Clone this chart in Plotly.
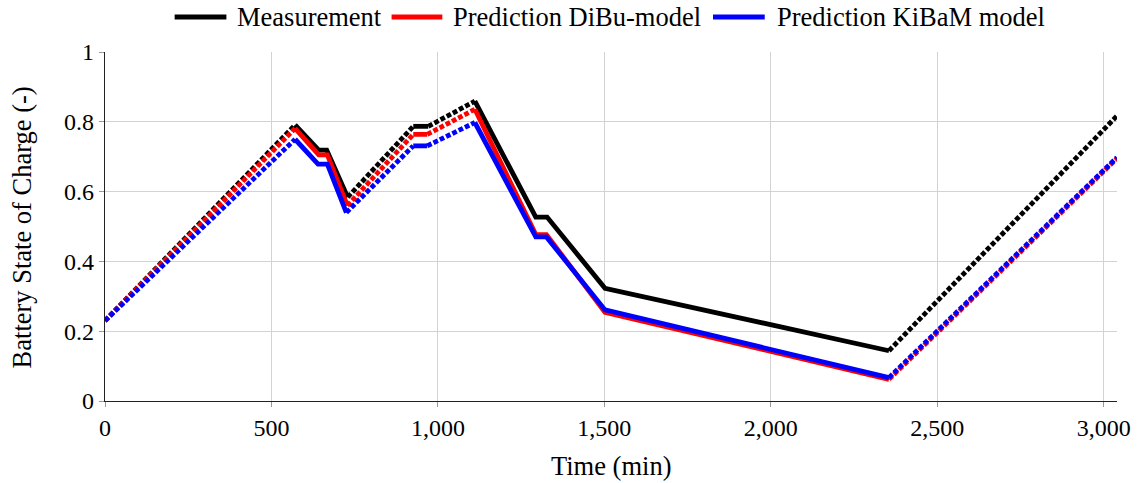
import plotly.graph_objects as go

# ---- data ----
t_meas = [0, 571, 642, 666, 729, 926, 971, 1111, 1294, 1328, 1502, 2355, 3040]
v_meas = [0.230, 0.791, 0.719, 0.719, 0.584, 0.787, 0.787, 0.859, 0.527, 0.527, 0.323, 0.144, 0.817]

t_dibu = [0, 571, 642, 668, 728, 926, 968, 1111, 1294, 1326, 1502, 2355, 3040]
v_dibu = [0.230, 0.781, 0.705, 0.705, 0.560, 0.764, 0.764, 0.836, 0.477, 0.477, 0.254, 0.062, 0.695]

t_kibam = [0, 571, 640, 668, 725, 926, 968, 1111, 1294, 1326, 1502, 2355, 3040]
v_kibam = [0.230, 0.750, 0.679, 0.679, 0.540, 0.731, 0.731, 0.798, 0.470, 0.470, 0.261, 0.067, 0.698]

series_names = ["Measurement", "Prediction DiBu-model", "Prediction KiBaM model"]
series_colors = ["#000000", "#ff0000", "#0000ff"]

x_ticks = [0, 500, 1000, 1500, 2000, 2500, 3000]
y_ticks = [0, 0.2, 0.4, 0.6, 0.8, 1]

FONT = "Liberation Serif"
FS_TICK = 24
FS_LEG = 26.5
FS_TITLE = 26.5
W, H = 1143, 483
# plot area in pixels: x 105..1122, y 52..401
L, T = 105, 52
R = W - 1122
B = H - 401

fig = go.Figure()


def split_segments(t, v):
    solid_x, solid_y, dot_x, dot_y = [], [], [], []
    for i in range(len(t) - 1):
        rising = v[i + 1] > v[i] + 0.01
        tx, ty = (dot_x, dot_y) if rising else (solid_x, solid_y)
        if tx and tx[-1] == t[i]:
            tx.append(t[i + 1]); ty.append(v[i + 1])
        else:
            if tx:
                tx.append(None); ty.append(None)
            tx.extend([t[i], t[i + 1]]); ty.extend([v[i], v[i + 1]])
    return solid_x, solid_y, dot_x, dot_y


for (t, v), name, col in zip([(t_meas, v_meas), (t_dibu, v_dibu), (t_kibam, v_kibam)],
                             series_names, series_colors):
    sx, sy, dx, dy = split_segments(t, v)
    fig.add_trace(go.Scatter(x=sx, y=sy, mode="lines", name=name, showlegend=False,
                             line=dict(color=col, width=4.8), hoverinfo="skip"))
    fig.add_trace(go.Scatter(x=dx, y=dy, mode="lines", name=name, showlegend=False,
                             line=dict(color=col, width=4.8, dash="4.8px,2.2px"), hoverinfo="skip"))

pw = W - L - R
ph = H - T - B


def px2paper_x(px):
    return (px - L) / pw


def py2paper_y(py):
    return (H - B - py) / ph


# manual legend (pixel positions)
leg_y = 17
leg_items = [(175, 227, 236), (393, 444, 453), (716, 768, 778)]
for (x0, x1, xt), name, col in zip(leg_items, series_names, series_colors):
    fig.add_shape(type="line", xref="paper", yref="paper",
                  x0=px2paper_x(x0), x1=px2paper_x(x1),
                  y0=py2paper_y(leg_y), y1=py2paper_y(leg_y),
                  line=dict(color=col, width=4.8))
    fig.add_annotation(xref="paper", yref="paper", x=px2paper_x(xt), y=py2paper_y(leg_y),
                       text=name, showarrow=False, xanchor="left", yanchor="middle",
                       font=dict(family=FONT, size=FS_LEG, color="black"))

# axis titles
fig.add_annotation(xref="paper", yref="paper", x=px2paper_x(614), y=py2paper_y(466),
                   text="Time (min)", showarrow=False, xanchor="center", yanchor="middle",
                   font=dict(family=FONT, size=FS_TITLE, color="black"))
fig.add_annotation(xref="paper", yref="paper", x=px2paper_x(22), y=py2paper_y(227),
                   text="Battery State of Charge (-)", showarrow=False, textangle=-90,
                   xanchor="center", yanchor="middle",
                   font=dict(family=FONT, size=FS_TITLE, color="black"))

fig.update_layout(
    width=W, height=H,
    margin=dict(l=L, r=R, t=T, b=B),
    plot_bgcolor="white", paper_bgcolor="white",
    font=dict(family=FONT, size=FS_TICK, color="black"),
    showlegend=False,
)
fig.update_xaxes(range=[0, 3040], tickvals=x_ticks, tickformat=",d",
                 showgrid=True, gridcolor="#d3d3d3", gridwidth=1,
                 showline=True, linecolor="#222222", linewidth=1.2,
                 ticks="outside", ticklen=5, tickcolor="#999999", tickwidth=1,
                 zeroline=False, tickfont=dict(family=FONT, size=FS_TICK))
fig.update_yaxes(range=[0, 1], tickvals=y_ticks,
                 showgrid=True, gridcolor="#d3d3d3", gridwidth=1,
                 showline=True, linecolor="#222222", linewidth=1.2,
                 ticks="outside", ticklen=5, tickcolor="#999999", tickwidth=1,
                 zeroline=False, tickfont=dict(family=FONT, size=FS_TICK))

fig.write_html("out.html", config={"displayModeBar": False},
               post_script="document.body.style.margin='0px';")
